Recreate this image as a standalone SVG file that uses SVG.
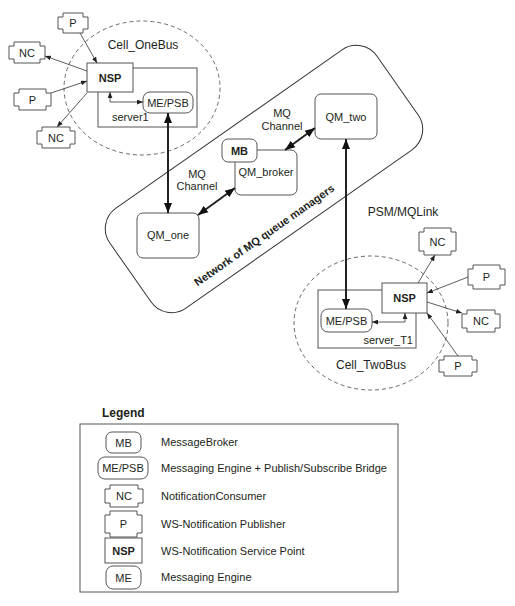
<svg xmlns="http://www.w3.org/2000/svg" width="515" height="606" viewBox="0 0 515 606">
<style>
text{font-family:"Liberation Sans",Arial,sans-serif;font-size:11px;fill:#231f20}
.c{text-anchor:middle}
.b{font-weight:bold}
.l{font-size:12px}
.box{fill:#fff;stroke:#555;stroke-width:1}
.ol{fill:none;stroke:#333;stroke-width:1}
.dash{fill:none;stroke:#444;stroke-width:0.8;stroke-dasharray:4 3}
.thin{fill:none;stroke:#333;stroke-width:0.8;marker-end:url(#a)}
.thin2{fill:none;stroke:#333;stroke-width:0.8;marker-start:url(#a);marker-end:url(#a)}
.thick{fill:none;stroke:#222;stroke-width:2;marker-start:url(#A);marker-end:url(#A)}
</style>
<defs>
<marker id="a" viewBox="0 0 10 8" refX="10" refY="4" markerWidth="6" markerHeight="5" markerUnits="userSpaceOnUse" orient="auto-start-reverse"><path d="M0,0 L10,4 L0,8 Z" fill="#222"/></marker>
<marker id="A" viewBox="0 0 10 8" refX="10" refY="4" markerWidth="10" markerHeight="9" markerUnits="userSpaceOnUse" orient="auto-start-reverse"><path d="M0,0 L10,4 L0,8 Z" fill="#111"/></marker>
</defs>

<g id="network">
<g transform="translate(264,179) rotate(-35)">
<rect x="-163" y="-61" width="326" height="122" rx="25" class="ol"/>
<text x="-32" y="50" class="c b">Network of MQ queue managers</text>
</g>
</g>

<g id="cell-onebus">
<ellipse cx="142" cy="88" rx="78" ry="67" class="dash"/>
<text x="143" y="49" class="c l">Cell_OneBus</text>
</g>
<g id="cell-twobus">
<ellipse cx="371" cy="323" rx="77" ry="67" class="dash"/>
<text x="371" y="369" class="c l">Cell_TwoBus</text>
</g>

<g id="server1">
<rect x="98" y="68" width="99" height="59" class="box"/>
<text x="112" y="121">server1</text>
</g>
<g id="nsp1">
<rect x="87" y="63" width="46" height="29" class="box"/>
<text x="110" y="81.5" class="c b">NSP</text>
</g>
<g id="mepsb1">
<rect x="143" y="92" width="50" height="21" rx="7" class="box"/>
<text x="168" y="107" class="c">ME/PSB</text>
</g>

<g id="p1"><path d="M63,13 H83 V17 H88 V29 H83 V33 H63 V29 H58 V17 H63 Z" class="box"/><text x="73" y="27" class="c">P</text></g>
<g id="nc1"><path d="M14,42 H40 V46 H45 V59 H40 V63 H14 V59 H9 V46 H14 Z" class="box"/><text x="27" y="56.5" class="c">NC</text></g>
<g id="p2"><path d="M19,89 H46 V93 H51 V106 H46 V110 H19 V106 H14 V93 H19 Z" class="box"/><text x="32.5" y="103.5" class="c">P</text></g>
<g id="nc2"><path d="M42,127 H70 V131 H75 V144 H70 V148 H42 V144 H37 V131 H42 Z" class="box"/><text x="56" y="141.5" class="c">NC</text></g>

<g id="qm-one">
<rect x="137" y="213" width="62" height="45" rx="6" class="box"/>
<text x="168" y="239" class="c">QM_one</text>
</g>
<g id="qm-broker">
<rect x="235" y="150" width="62" height="45" rx="6" class="box"/>
<text x="266" y="176" class="c">QM_broker</text>
</g>
<g id="mb">
<rect x="222" y="139" width="35" height="23" rx="6" class="box"/>
<text x="239.5" y="154.5" class="c b">MB</text>
</g>
<g id="qm-two">
<rect x="315" y="94" width="62" height="45" rx="6" class="box"/>
<text x="346" y="121" class="c">QM_two</text>
</g>

<g id="server-t1">
<rect x="318" y="290" width="98" height="58" class="box"/>
<text x="413" y="344" text-anchor="end">server_T1</text>
</g>
<g id="nsp2">
<rect x="382" y="283" width="45" height="30" class="box"/>
<text x="404.5" y="302" class="c b">NSP</text>
</g>
<g id="mepsb2">
<rect x="321" y="309" width="51" height="23" rx="7" class="box"/>
<text x="346.5" y="325" class="c">ME/PSB</text>
</g>

<g id="nc3"><path d="M424,228 H451 V232 H456 V251 H451 V255 H424 V251 H419 V232 H424 Z" class="box"/><text x="437.5" y="245.5" class="c">NC</text></g>
<g id="p3"><path d="M473,265 H500 V269 H505 V285 H500 V289 H473 V285 H468 V269 H473 Z" class="box"/><text x="486.5" y="281" class="c">P</text></g>
<g id="nc4"><path d="M467,310 H495 V314 H500 V328 H495 V332 H467 V328 H462 V314 H467 Z" class="box"/><text x="481" y="325" class="c">NC</text></g>
<g id="p4"><path d="M444,356 H472 V360 H477 V372 H472 V376 H444 V372 H439 V360 H444 Z" class="box"/><text x="458" y="370" class="c">P</text></g>

<g id="labels">
<text x="197" y="178" class="c">MQ</text>
<text x="197" y="190" class="c">Channel</text>
<text x="282" y="117" class="c">MQ</text>
<text x="282" y="130" class="c">Channel</text>
<text x="403" y="216" class="c l">PSM/MQLink</text>
</g>

<g id="connectors">
<path d="M80,33 L97,63" class="thin"/>
<path d="M87,71 L45,56" class="thin"/>
<path d="M51,93 L87,81" class="thin"/>
<path d="M87,93 L57,127" class="thin"/>
<path d="M110,92 V102 H143" class="thin2"/>
<path d="M405,313 V322 H372" class="thin2"/>
<path d="M418,283 L435,255" class="thin"/>
<path d="M468,277 L427,293" class="thin"/>
<path d="M427,302 L462,313" class="thin"/>
<path d="M458,356 L427,313" class="thin"/>
<path d="M168,113 V213" class="thick"/>
<path d="M198,215 L235,188" class="thick"/>
<path d="M285,150 L315,128" class="thick"/>
<path d="M346,139 V309" class="thick"/>
</g>

<g id="legend">
<text x="102" y="417" class="b l">Legend</text>
<rect x="80" y="424" width="318" height="168" fill="none" stroke="#555" stroke-width="1"/>
<g id="leg-mb"><rect x="106" y="432" width="35" height="21" rx="6" class="box"/><text x="123.5" y="446.5" class="c">MB</text><text x="161" y="446">MessageBroker</text></g>
<g id="leg-mepsb"><rect x="98" y="457" width="50" height="22" rx="7" class="box"/><text x="123" y="472" class="c">ME/PSB</text><text x="161" y="472">Messaging Engine + Publish/Subscribe Bridge</text></g>
<g id="leg-nc"><path d="M110,485 H138 V489 H143 V503 H138 V507 H110 V503 H105 V489 H110 Z" class="box"/><text x="124" y="500" class="c">NC</text><text x="161" y="500">NotificationConsumer</text></g>
<g id="leg-p"><path d="M110,511 H137 V515 H142 V533 H137 V537 H110 V533 H105 V515 H110 Z" class="box"/><text x="123.5" y="528" class="c">P</text><text x="161" y="528">WS-Notification Publisher</text></g>
<g id="leg-nsp"><rect x="105" y="538" width="37" height="25" class="box"/><text x="123.5" y="555" class="c b">NSP</text><text x="161" y="555">WS-Notification Service Point</text></g>
<g id="leg-me"><rect x="106" y="566" width="35" height="23" rx="7" class="box"/><text x="123.5" y="581.5" class="c">ME</text><text x="161" y="581">Messaging Engine</text></g>
</g>
</svg>
